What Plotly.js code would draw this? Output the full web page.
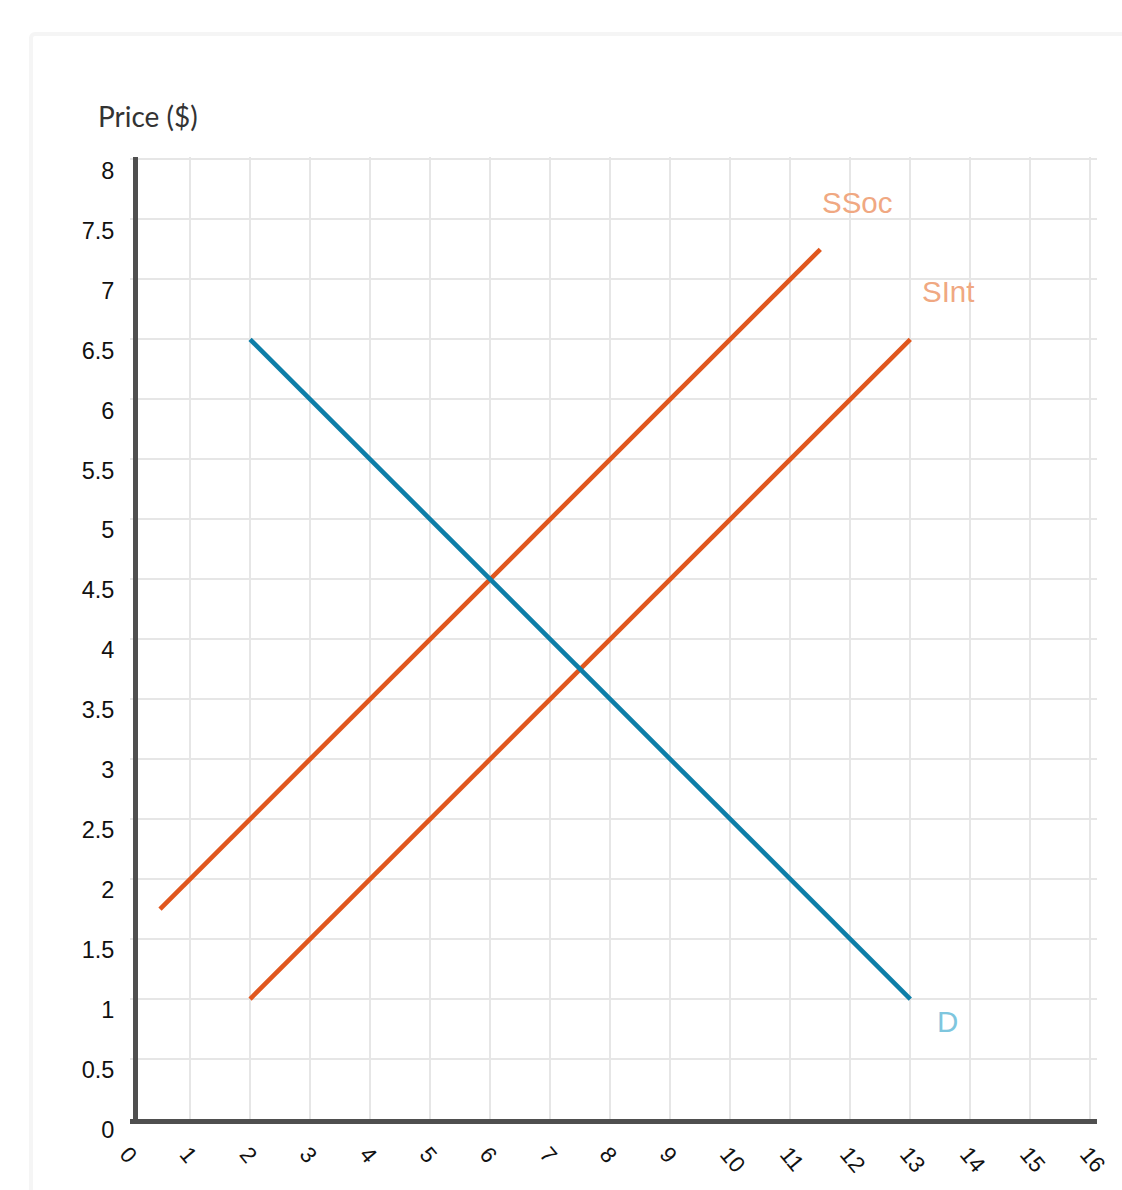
<!DOCTYPE html>
<html>
<head>
<meta charset="utf-8">
<script src="https://cdn.plot.ly/plotly-3.0.1.min.js"></script>
<style>
  html, body { margin: 0; padding: 0; background: #ffffff; width: 1122px; height: 1190px; overflow: hidden; }
  #card { position: absolute; left: 29px; top: 32px; width: 1200px; height: 1300px; border: 4px solid #f5f5f5; border-radius: 6px; box-sizing: border-box; background: #ffffff; }
  #chart { position: absolute; left: 0; top: 0; width: 1122px; height: 1190px; }
</style>
</head>
<body>
<div id="card"></div>
<div id="chart"></div>
<script>
// Data
const seriesNames = ["SSoc", "SInt", "D"];
const ssocQ = [0.5, 11.5];
const ssocP = [1.75, 7.25];
const sintQ = [2, 13];
const sintP = [1, 6.5];
const demandQ = [2, 13];
const demandP = [6.5, 1];
const xTickVals = [0,1,2,3,4,5,6,7,8,9,10,11,12,13,14,15,16];
const yTickVals = [0,0.5,1,1.5,2,2.5,3,3.5,4,4.5,5,5.5,6,6.5,7,7.5,8];
const yAxisTitle = "Price ($)";

const orange = "#e0571e";
const blue = "#0d7ea8";
const labelOrange = "#f0a882";
const labelBlue = "#7ec6de";

const traces = [
  { x: ssocQ, y: ssocP, mode: "lines", name: seriesNames[0], line: { color: orange, width: 4.6 } },
  { x: sintQ, y: sintP, mode: "lines", name: seriesNames[1], line: { color: orange, width: 4.6 } },
  { x: demandQ, y: demandP, mode: "lines", name: seriesNames[2], line: { color: blue, width: 4.6 } }
];

const labelFont = { family: "Liberation Sans, Arial, sans-serif", size: 29.5 };
const annotations = [
  { x: ssocQ[ssocQ.length-1], y: ssocP[ssocP.length-1], xref: "x", yref: "y", text: seriesNames[0], showarrow: false,
    xshift: 37, yshift: 47, font: Object.assign({ color: labelOrange }, labelFont) },
  { x: sintQ[sintQ.length-1], y: sintP[sintP.length-1], xref: "x", yref: "y", text: seriesNames[1], showarrow: false,
    xshift: 38, yshift: 48, font: Object.assign({ color: labelOrange }, labelFont) },
  { x: demandQ[demandQ.length-1], y: demandP[demandP.length-1], xref: "x", yref: "y", text: seriesNames[2], showarrow: false,
    xshift: 37, yshift: -22, font: Object.assign({ color: labelBlue }, labelFont) }
];
annotations.push({ x: -0.0355, y: 1.0426, xref: "paper", yref: "paper", text: yAxisTitle, showarrow: false,
    xanchor: "left", yanchor: "middle", font: { family: "Lato, sans-serif", size: 28, color: "#333333" } });

const layout = {
  width: 1122,
  height: 1190,
  margin: { l: 130, r: 25, t: 157, b: 71, pad: 0 },
  paper_bgcolor: "rgba(0,0,0,0)",
  plot_bgcolor: "#ffffff",
  showlegend: false,
  xaxis: {
    range: [0, 16.11],
    tickmode: "array",
    tickvals: xTickVals,
    ticktext: xTickVals.map(String),
    tickangle: 50,
    tickfont: { family: "Liberation Sans, Arial, sans-serif", size: 22.5, color: "#111111" },
    showgrid: true,
    gridcolor: "#e6e6e6",
    gridwidth: 2,
    zeroline: false,
    showline: true,
    linecolor: "#4f4f4f",
    linewidth: 5,
    ticks: "",
    ticklabelstandoff: 8,
    ticklabelshift: -3
  },
  yaxis: {
    range: [0, 8.02],
    tickmode: "array",
    tickvals: yTickVals,
    ticktext: yTickVals.map(String),
    tickfont: { family: "Liberation Sans, Arial, sans-serif", size: 23.5, color: "#111111" },
    showgrid: true,
    gridcolor: "#e6e6e6",
    gridwidth: 2,
    zeroline: false,
    showline: true,
    linecolor: "#4f4f4f",
    linewidth: 5,
    ticks: "",
    anchor: "free",
    position: 0.0052,
    ticklabelstandoff: 14,
    ticklabelshift: 11
  },
  annotations: annotations
};

Plotly.newPlot("chart", traces, layout, { staticPlot: true, displayModeBar: false });
</script>
</body>
</html>
